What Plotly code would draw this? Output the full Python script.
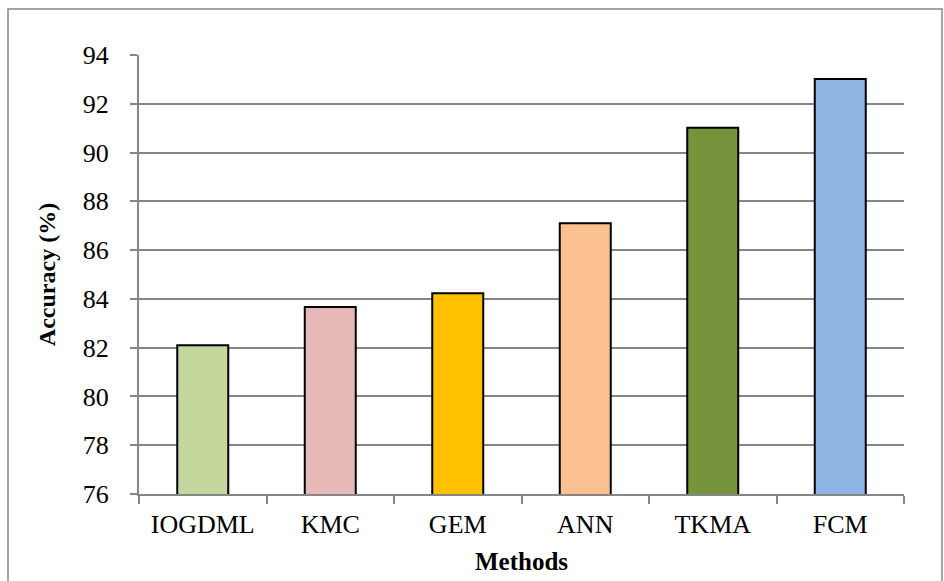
import plotly.graph_objects as go

# Classification accuracy of each method
methods = ["IOGDML", "KMC", "GEM", "ANN", "TKMA", "FCM"]
accuracy = [82.1, 83.67, 84.23, 87.1, 91.02, 93.02]
bar_colors = ["#C3D69B", "#E6B9B8", "#FFC000", "#FAC090", "#77933C", "#8EB4E3"]
y_ticks = [76, 78, 80, 82, 84, 86, 88, 90, 92, 94]

W, H = 944, 581
L, R, T, B = 139, 40, 55, 87

SERIF = "Liberation Serif"

fig = go.Figure(
    go.Bar(
        x=methods,
        y=accuracy,
        marker=dict(color=bar_colors, line=dict(color="#000000", width=2)),
        width=0.4,
    )
)

fig.update_layout(
    width=W,
    height=H,
    margin=dict(l=L, r=R, t=T, b=B),
    paper_bgcolor="white",
    plot_bgcolor="white",
    showlegend=False,
    font=dict(family=SERIF, size=26, color="#000000"),
    xaxis=dict(
        automargin=False,
        showline=True,
        linecolor="#868686",
        linewidth=2,
        ticks="outside",
        tickson="boundaries",
        ticklen=8,
        tickcolor="#868686",
        tickwidth=2,
        showgrid=False,
        tickfont=dict(family=SERIF, size=26, color="#000000"),
        ticklabelstandoff=6,
        title=dict(text="<b>Methods</b>", font=dict(family=SERIF, size=25, color="#000000"), standoff=14),
    ),
    yaxis=dict(
        automargin=False,
        range=[76, 94],
        tickvals=y_ticks,
        showline=True,
        linecolor="#868686",
        linewidth=2,
        ticks="outside",
        ticklen=7,
        tickcolor="#868686",
        tickwidth=2,
        showgrid=True,
        gridcolor="#868686",
        gridwidth=2,
        zeroline=False,
        tickfont=dict(family=SERIF, size=26, color="#000000"),
        ticklabelstandoff=16,
        title=dict(text="<b>Accuracy (%)</b>", font=dict(family=SERIF, size=24, color="#000000"), standoff=20),
    ),
)

# Outer chart-area frame
pw, ph = W - L - R, H - T - B
fig.add_shape(
    type="rect",
    xref="paper",
    yref="paper",
    x0=(8 - L) / pw,
    x1=(942 - L) / pw,
    y0=(H - 600 - B) / ph,
    y1=(H - 9 - B) / ph,
    line=dict(color="#868686", width=1.5),
    fillcolor="rgba(0,0,0,0)",
    layer="below",
)

fig.write_html("out.html")
